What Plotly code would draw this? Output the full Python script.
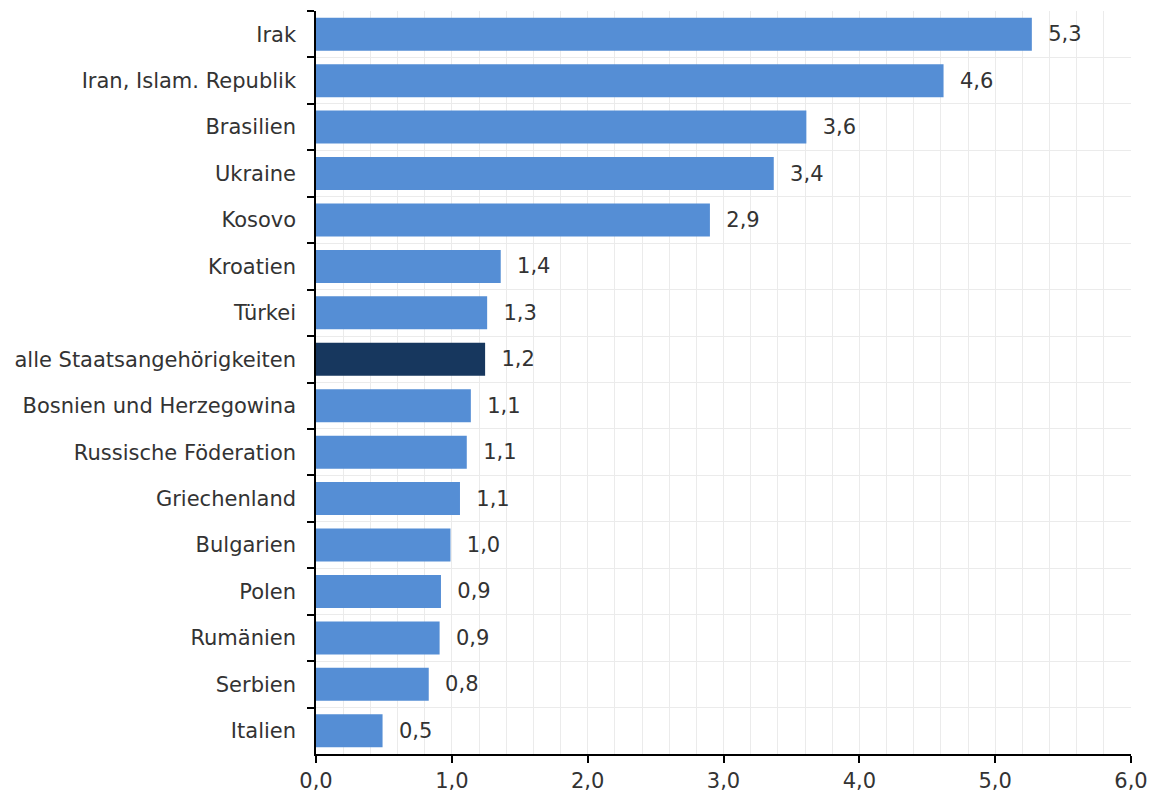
import plotly.graph_objects as go

categories = ["Irak", "Iran, Islam. Republik", "Brasilien", "Ukraine", "Kosovo",
              "Kroatien", "Türkei", "alle Staatsangehörigkeiten",
              "Bosnien und Herzegowina", "Russische Föderation", "Griechenland",
              "Bulgarien", "Polen", "Rumänien", "Serbien", "Italien"]
values = [5.27, 4.62, 3.61, 3.37, 2.90, 1.36, 1.26, 1.245, 1.14, 1.11, 1.06,
          0.99, 0.92, 0.91, 0.83, 0.49]
highlight = "alle Staatsangehörigkeiten"
x_ticks = [0, 1, 2, 3, 4, 5, 6]

base_color = "#558ED5"
highlight_color = "#17375E"
colors = [highlight_color if c == highlight else base_color for c in categories]

FONT = "DejaVu Sans"
FS = 21

fig = go.Figure(go.Bar(
    x=values, y=categories, orientation="h",
    marker=dict(color=colors, line=dict(width=0)),
    texttemplate="  %{x:.1f}", textposition="outside",
    textfont=dict(color="#333333", size=FS, family=FONT),
    cliponaxis=False, hoverinfo="skip",
))

# page body has an 8px margin, so the figure is sized/offset accordingly
fig.update_layout(
    width=1141, height=784,
    margin=dict(l=308, r=18, t=3, b=38, autoexpand=False),
    plot_bgcolor="white", paper_bgcolor="white",
    separators=",.",
    bargap=0.29,
    font=dict(family=FONT, size=FS, color="#333333"),
    showlegend=False,
)
fig.update_xaxes(
    range=[0, 6], tickvals=x_ticks, tickformat=".1f", automargin=False,
    showline=True, linecolor="black", linewidth=1.5,
    ticks="outside", ticklen=7, tickcolor="black", tickwidth=1.5,
    showgrid=True, gridcolor="#ebebeb", gridwidth=1,
    minor=dict(dtick=0.2, showgrid=True, gridcolor="#ebebeb", gridwidth=1),
    zeroline=False, fixedrange=True,
)
fig.update_yaxes(
    autorange="reversed", type="category", tickson="boundaries", automargin=False,
    showline=True, linecolor="black", linewidth=1.5,
    ticks="outside", ticklen=7, tickcolor="black", tickwidth=1.5,
    showgrid=True, gridcolor="#ebebeb", gridwidth=1,
    ticklabelstandoff=14, fixedrange=True,
)

fig.write_html("out.html")
